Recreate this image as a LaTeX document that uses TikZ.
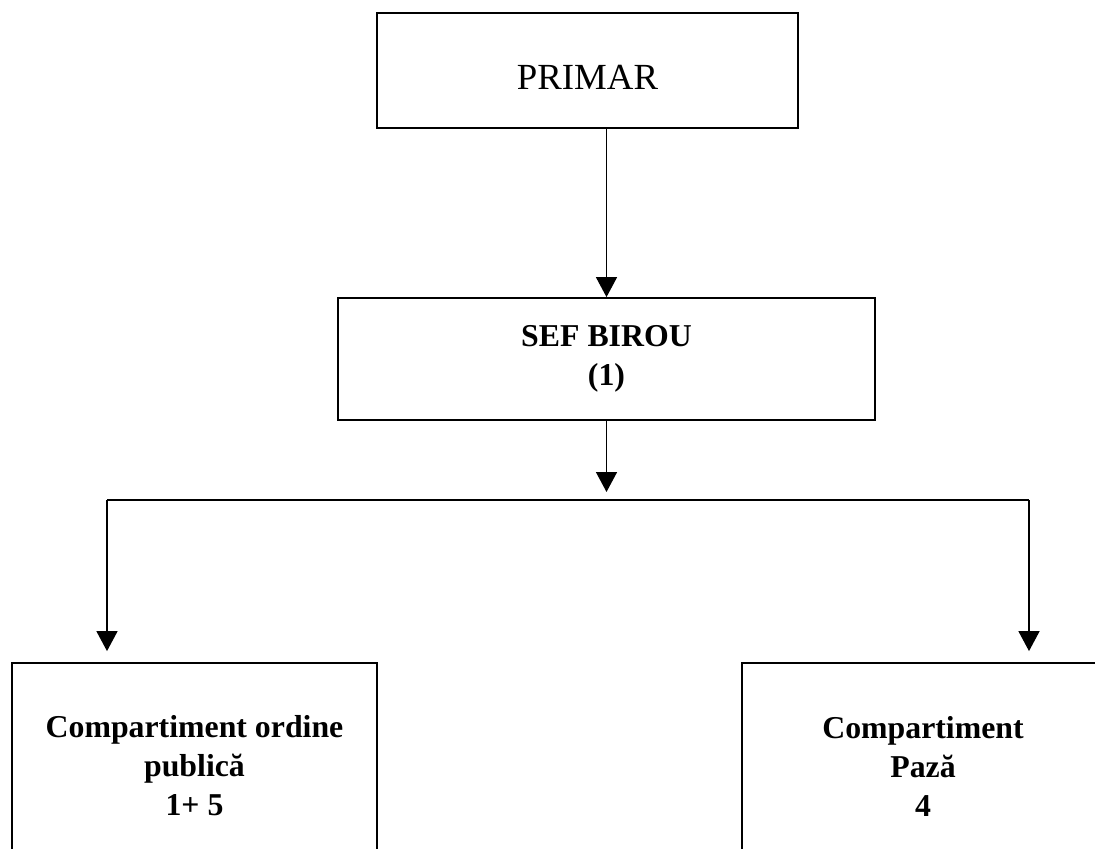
\documentclass[tikz,border=0pt]{standalone}
\usepackage{fontspec}
\setmainfont{Liberation Serif}
\usetikzlibrary{arrows.meta}

\begin{document}
\begin{tikzpicture}[x=0.5pt,y=-0.5pt]
      \clip (0,0) rectangle (1095,849);
      \begin{scope}[every node/.style={rectangle,draw,line width=0.9pt,align=center,
          font=\fontsize{15.9}{19.5}\selectfont\bfseries}]
        \node[minimum width=210.5pt,minimum height=57.5pt,text height=19.5pt,
          font=\fontsize{18.4}{22}\selectfont] (primar) at (587.5,70.5) {PRIMAR};
        \node[minimum width=268.5pt,minimum height=61pt] (sef) at (606.5,359) {SEF BIROU\\(1)};
        \node[minimum width=182.5pt,minimum height=103pt] (ordine) at (194.5,766)
          {Compartiment ordine\\publică\\1+ 5};
        \node[minimum width=181pt,minimum height=103pt] (paza) at (923,766)
          {Compartiment\\Pază\\4};
      \end{scope}
      \coordinate (busL) at (107,500);
      \coordinate (busR) at (1029,500);
      \begin{scope}[line width=0.75pt,
          every edge/.style={draw,-{Triangle[length=10pt,width=10.5pt]}}]
        \path (primar.south -| sef.north) edge (sef.north);
        \path (sef.south) edge[shorten >=4pt] (sef.south |- busL);
        \path (busL) edge[shorten >=5.5pt] (busL |- ordine.north);
        \path (busR) edge[shorten >=5.5pt] (busR |- paza.north);
        \draw (busL) -- (busR);
      \end{scope}
\end{tikzpicture}
\end{document}
